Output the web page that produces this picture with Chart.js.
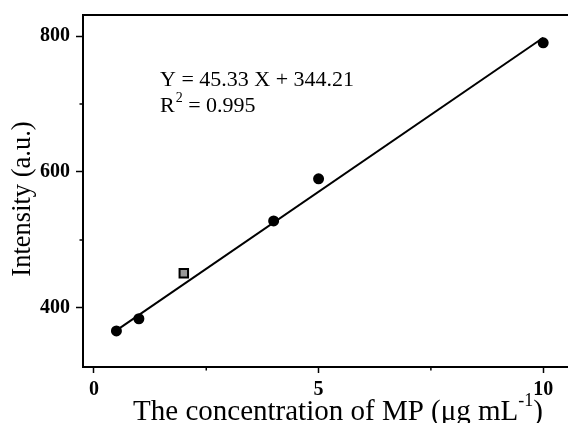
<!DOCTYPE html>
<html>
<head>
<meta charset="utf-8">
<script src="https://cdn.jsdelivr.net/npm/chart.js@4.4.1/dist/chart.umd.min.js"></script>
<style>
  html, body { margin: 0; padding: 0; background: #fff; overflow: hidden; }
  #wrap { width: 568px; height: 423px; overflow: hidden; }
</style>
</head>
<body>
<div id="wrap"><canvas id="c" width="575" height="423"></canvas></div>
<script>
// measured points
const concX = [0.5, 1, 2, 4, 5, 10];
const intensityY = [366, 384, 451, 528, 590, 790];
// fitted line endpoints (Y = 45.33 X + 344.21)
const fitX = [0.5, 10];
const fitY = [366.9, 797.5];
const xTicks = [0, 2.5, 5, 7.5, 10];
const yTicks = [400, 500, 600, 700, 800];
const xMajor = [0, 5, 10];
const yMajor = [400, 600, 800];
const eqText = 'Y = 45.33 X + 344.21';
const r2Text = ['R', '2', ' = 0.995'];

const serif = '"Liberation Serif", "Times New Roman", serif';

const decor = {
  id: 'decor',
  afterDraw(chart) {
    const { ctx, chartArea: a, scales } = chart;
    ctx.save();
    // top frame line
    ctx.strokeStyle = '#000';
    ctx.lineWidth = 2;
    ctx.beginPath();
    ctx.moveTo(a.left - 1, a.top);
    ctx.lineTo(a.right + 10, a.top);
    ctx.stroke();
    // minor ticks
    ctx.lineWidth = 1.5;
    ctx.beginPath();
    xTicks.filter(v => !xMajor.includes(v)).forEach(v => {
      const px = scales.x.getPixelForValue(v);
      ctx.moveTo(px, a.bottom); ctx.lineTo(px, a.bottom + 3.5);
    });
    yTicks.filter(v => !yMajor.includes(v)).forEach(v => {
      const py = scales.y.getPixelForValue(v);
      ctx.moveTo(a.left, py); ctx.lineTo(a.left - 3.5, py);
    });
    ctx.stroke();

    ctx.fillStyle = '#000';
    // equation
    ctx.font = '22px ' + serif;
    ctx.textBaseline = 'alphabetic';
    ctx.textAlign = 'left';
    ctx.fillText(eqText, 160, 86);
    let x = 160;
    ctx.fillText(r2Text[0], x, 112);
    x += ctx.measureText(r2Text[0]).width;
    ctx.font = '14px ' + serif;
    ctx.fillText(r2Text[1], x + 1, 102);
    x += ctx.measureText(r2Text[1]).width + 1;
    ctx.font = '22px ' + serif;
    ctx.fillText(r2Text[2], x, 112);

    // x title with superscript
    const main = 'The concentration of MP (\u03bcg mL';
    const sup = '-1';
    const tail = ')';
    ctx.font = '29px ' + serif;
    const wMain = ctx.measureText(main).width;
    const wTail = ctx.measureText(tail).width;
    ctx.font = '18px ' + serif;
    const wSup = ctx.measureText(sup).width;
    let tx = 338 - (wMain + wSup + wTail) / 2;
    ctx.font = '29px ' + serif;
    ctx.fillText(main, tx, 420);
    tx += wMain;
    ctx.font = '18px ' + serif;
    ctx.fillText(sup, tx, 406);
    tx += wSup;
    ctx.font = '29px ' + serif;
    ctx.fillText(tail, tx, 420);

    // y title
    ctx.translate(23, 199);
    ctx.rotate(-Math.PI / 2);
    ctx.textAlign = 'center';
    ctx.textBaseline = 'middle';
    ctx.font = '26.5px ' + serif;
    ctx.fillText('Intensity (a.u.)', 0, 0);
    ctx.restore();
  }
};

new Chart(document.getElementById('c'), {
  type: 'scatter',
  data: {
    datasets: [
      {
        label: 'data',
        data: concX.map((v, i) => ({ x: v, y: intensityY[i] })),
        backgroundColor: '#000',
        borderColor: '#000',
        pointStyle: concX.map(v => v === 2 ? 'rect' : 'circle'),
        pointBackgroundColor: concX.map(v => v === 2 ? '#999' : '#000'),
        pointBorderWidth: 2,
        pointRadius: concX.map(v => v === 2 ? 6 : 4.5)
      },
      {
        type: 'line',
        label: 'fit',
        data: fitX.map((v, i) => ({ x: v, y: fitY[i] })),
        borderColor: '#000',
        borderWidth: 2,
        pointRadius: 0,
        fill: false
      }
    ]
  },
  options: {
    responsive: false,
    animation: false,
    layout: { padding: { top: 15, right: 0, left: 0, bottom: 0 } },
    plugins: { legend: { display: false }, tooltip: { enabled: false } },
    scales: {
      x: {
        type: 'linear',
        min: -0.244,
        max: 10.53,
        afterBuildTicks: s => { s.ticks = xTicks.map(v => ({ value: v })); },
        afterFit: s => { s.height = 56; s.paddingLeft = 0; s.paddingRight = 0; },
        ticks: {
          color: '#000',
          font: { family: serif, size: 20, weight: 'bold' },
          padding: 5,
          maxRotation: 0,
          autoSkip: false,
          callback: v => xMajor.includes(v) ? String(v) : ''
        },
        grid: {
          drawOnChartArea: false,
          tickLength: 6,
          tickWidth: 1.5,
          tickColor: c => xMajor.includes(c.tick.value) ? '#000' : 'rgba(0,0,0,0)'
        },
        border: { color: '#000', width: 2 }
      },
      y: {
        min: 313,
        max: 831,
        afterBuildTicks: s => { s.ticks = yTicks.map(v => ({ value: v })); },
        afterFit: s => { s.width = 83; s.paddingTop = 0; s.paddingBottom = 0; },
        ticks: {
          color: '#000',
          font: { family: serif, size: 20, weight: 'bold' },
          padding: 6,
          autoSkip: false,
          callback: v => yMajor.includes(v) ? String(v) : ''
        },
        grid: {
          drawOnChartArea: false,
          tickLength: 7,
          tickWidth: 1.5,
          tickColor: c => yMajor.includes(c.tick.value) ? '#000' : 'rgba(0,0,0,0)'
        },
        border: { color: '#000', width: 2 }
      }
    }
  },
  plugins: [decor]
});
</script>
</body>
</html>
